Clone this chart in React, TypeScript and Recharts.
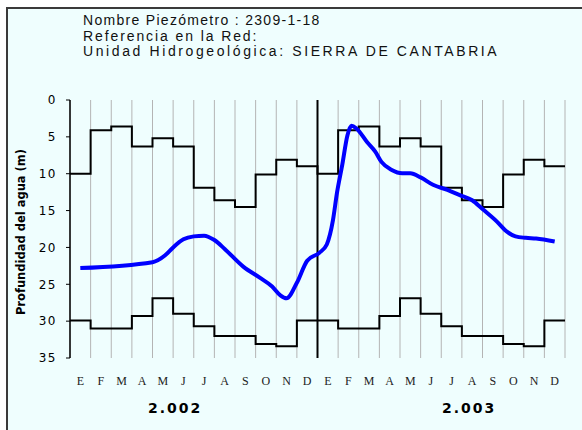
import { LineChart, Line, XAxis, YAxis, CartesianGrid, ReferenceLine } from "recharts";

// historic max / min depth per month (m), Jan..Dec
const maxDepth = [10, 4.1, 3.6, 6.3, 5.2, 6.3, 11.9, 13.6, 14.5, 10.1, 8.1, 9.0];
const minDepth = [29.9, 31, 31, 29.3, 26.9, 29, 30.7, 32, 32, 33.1, 33.4, 29.9];

const monthLetters = ["E", "F", "M", "A", "M", "J", "J", "A", "S", "O", "N", "D"];
const years = ["2.002", "2.003"];

// measured depth, x = months since 1 Jan 2002
const measMonth = [
  0.5, 4.0, 4.6, 5.0, 5.5, 6.0, 6.5, 7.0, 7.5, 8.4, 9.2, 9.8, 10.2, 10.5, 11.0, 11.5,
  12.1, 12.45, 12.75, 12.95, 13.2, 13.45, 13.65, 13.9, 14.4, 14.8, 15.1, 15.6, 16.1,
  16.5, 17.0, 17.6, 18.3, 18.9, 19.5, 20.0, 20.7, 21.2, 21.6, 22.1, 22.6, 23.5,
];
const measDepth = [
  22.8, 22.0, 21.1, 20.0, 18.9, 18.5, 18.4, 19.0, 20.2, 22.6, 24.1, 25.3, 26.5, 26.9, 24.8, 21.8,
  20.7, 19.6, 16.3, 12.5, 8.8, 4.8, 3.5, 3.9, 5.7, 7.0, 8.4, 9.5, 9.95,
  9.95, 10.5, 11.5, 12.2, 12.9, 13.6, 14.8, 16.5, 17.9, 18.5, 18.7, 18.8, 19.2,
];

const yTicks = [0, 5, 10, 15, 20, 25, 30, 35];
const NM = 24;
const monthTicks = Array.from({ length: NM + 1 }, (_, i) => i);
const labelTicks = Array.from({ length: NM }, (_, i) => i + 0.5);

// one table, sorted by month: steps at whole months, measurements in between
type Row = { m: number; max?: number; min?: number; d?: number };
const rows: Row[] = [
  ...monthTicks.map((m) => ({
    m,
    max: maxDepth[Math.min(m, NM - 1) % 12],
    min: minDepth[Math.min(m, NM - 1) % 12],
  })),
  ...measMonth.map((m, i) => ({ m, d: measDepth[i] })),
].sort((a, b) => a.m - b.m);

const titleLines = [
  { text: "Nombre Piezómetro : 2309-1-18", ls: 1.3 },
  { text: "Referencia en la Red:", ls: 1.9 },
  { text: "Unidad Hidrogeológica: SIERRA DE CANTABRIA", ls: 2.6 },
];

const blank = () => "";

function MonthTick(props: any) {
  const { x, y, index } = props;
  return (
    <text
      x={x}
      y={y}
      dy={8}
      textAnchor="middle"
      fontFamily="'Liberation Serif', serif"
      fontSize={12}
      fill="#222"
    >
      {monthLetters[index % 12]}
    </text>
  );
}

export default function App() {
  return (
    <div style={{ position: "absolute", left: 0, top: 0, width: 582, height: 430, overflow: "hidden", background: "#fff" }}>
      <div
        style={{
          position: "absolute",
          left: 6,
          top: 7,
          width: 620,
          height: 460,
          borderLeft: "2px solid #3a3a3a",
          borderTop: "2px solid #3a3a3a",
          background: "#effefe",
        }}
      />
      <div style={{ position: "absolute", left: 83, top: 13, fontFamily: "Liberation Sans", fontSize: 14, lineHeight: "15.5px", color: "#111" }}>
        {titleLines.map((l) => (
          <div key={l.text} style={{ letterSpacing: l.ls, whiteSpace: "nowrap" }}>
            {l.text}
          </div>
        ))}
      </div>
      <div
        style={{
          position: "absolute",
          left: 21,
          top: 232,
          transform: "translate(-50%, -50%) rotate(-90deg)",
          whiteSpace: "nowrap",
          fontFamily: "DejaVu Sans",
          fontWeight: "bold",
          fontSize: 11.5,
        }}
      >
        Profundidad del agua (m)
      </div>
      {years.map((y, i) => (
        <div
          key={y}
          style={{
            position: "absolute",
            left: i === 0 ? 148 : 442,
            top: 400,
            fontFamily: "DejaVu Sans",
            fontWeight: "bold",
            fontSize: 14,
            letterSpacing: 2,
          }}
        >
          {y}
        </div>
      ))}
      <div style={{ position: "absolute", left: 0, top: 0 }}>
        <LineChart width={582} height={430} data={rows} margin={{ top: 100, right: 17, bottom: 42, left: 30 }}>
          <CartesianGrid xAxisId="m" horizontal={false} stroke="#b4b4b4" strokeWidth={1} />
          <XAxis
            xAxisId="top"
            orientation="top"
            type="number"
            dataKey="m"
            domain={[0, NM]}
            allowDataOverflow
            ticks={monthTicks}
            interval={0}
            tickFormatter={blank}
            tickSize={4}
            height={0}
            axisLine={{ stroke: "#808080" }}
            tickLine={{ stroke: "#000" }}
          />
          <XAxis
            xAxisId="m"
            type="number"
            dataKey="m"
            domain={[0, NM]}
            allowDataOverflow
            ticks={monthTicks}
            interval={0}
            tickFormatter={blank}
            tickSize={4}
            height={0}
            axisLine={{ stroke: "#000", strokeWidth: 1.5 }}
            tickLine={{ stroke: "#000" }}
          />
          <XAxis
            xAxisId="lab"
            type="number"
            dataKey="m"
            domain={[0, NM]}
            allowDataOverflow
            ticks={labelTicks}
            interval={0}
            axisLine={false}
            tickLine={false}
            tickSize={0}
            tickMargin={19}
            height={30}
            tick={<MonthTick />}
          />
          <YAxis
            type="number"
            reversed
            domain={[0, 35]}
            ticks={yTicks}
            interval={0}
            width={40}
            tickSize={4}
            tickMargin={9}
            axisLine={{ stroke: "#000", strokeWidth: 1.5 }}
            tickLine={{ stroke: "#000" }}
            tick={{ fontSize: 12, fill: "#000", fontFamily: "DejaVu Sans", letterSpacing: 1.5 }}
          />
          <ReferenceLine xAxisId="m" x={12} stroke="#000" strokeWidth={2} />
          <Line
            xAxisId="m"
            dataKey="max"
            type="stepAfter"
            connectNulls
            stroke="#000"
            strokeWidth={2}
            dot={false}
            isAnimationActive={false}
          />
          <Line
            xAxisId="m"
            dataKey="min"
            type="stepAfter"
            connectNulls
            stroke="#000"
            strokeWidth={2}
            dot={false}
            isAnimationActive={false}
          />
          <Line
            xAxisId="m"
            dataKey="d"
            type="monotone"
            connectNulls
            stroke="#0000ff"
            strokeWidth={4}
            dot={false}
            isAnimationActive={false}
          />
        </LineChart>
      </div>
    </div>
  );
}
